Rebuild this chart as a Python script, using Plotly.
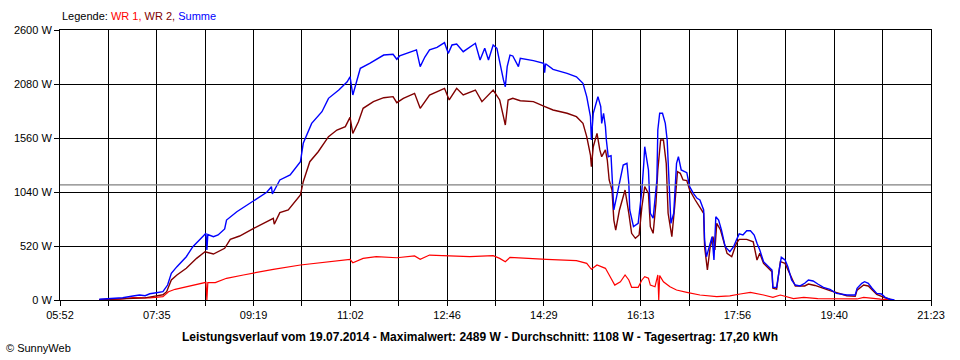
import plotly.graph_objects as go

# ---------------- data ----------------
tick_labels = ["05:52", "", "07:35", "", "09:19", "", "11:02", "", "12:46", "",
               "14:29", "", "16:13", "", "17:56", "", "19:40", "", "21:23"]
y_ticks = [0, 520, 1040, 1560, 2080, 2600]
average_w = 1108

times_wr1 = ["06:34", "06:56", "07:10", "07:28", "07:42", "07:48", "07:55", "08:07", "08:27", "08:28",
             "08:29", "08:30", "08:38", "08:50", "09:08", "09:36", "09:40", "10:09", "11:02", "11:05",
             "11:16", "11:30", "11:52", "12:11", "12:17", "12:27", "12:45", "13:10", "13:35", "13:42",
             "13:48", "13:53", "14:32", "15:04", "15:15", "15:20", "15:26", "15:35", "15:38", "15:42",
             "15:45", "15:51", "15:56", "16:00", "16:03", "16:10", "16:14", "16:17", "16:21", "16:23",
             "16:28", "16:31", "16:32", "16:33", "16:37", "16:44", "16:51", "17:02", "17:16", "17:34",
             "17:48", "17:59", "18:10", "18:24", "18:34", "18:42", "18:49", "18:56", "19:07", "19:22",
             "20:04", "20:11", "20:29", "20:42"]
wr1 = [4, 8, 22, 20, 32, 80, 103, 128, 170, 170,
       0, 168, 167, 209, 241, 289, 295, 337, 392, 359,
       401, 417, 407, 424, 392, 433, 427, 417, 427, 401,
       369, 411, 392, 379, 353, 296, 337, 305, 257, 193,
       144, 176, 241, 193, 122, 122, 193, 225, 209, 144,
       128, 241, 0, 235, 176, 128, 96, 74, 48, 32,
       40, 58, 74, 48, 26, 48, 32, 13, 26, 13,
       10, 26, 8, 0]

times_wr2 = ["06:34", "06:59", "07:10", "07:23", "07:35", "07:42", "07:46", "07:51", "07:57", "08:07",
             "08:18", "08:27", "08:36", "08:41", "08:48", "08:54", "09:04", "09:19", "09:33", "09:36",
             "09:40", "09:41", "09:47", "09:56", "10:09", "10:12", "10:19", "10:28", "10:39", "10:48",
             "10:57", "11:02", "11:05", "11:11", "11:16", "11:27", "11:38", "11:48", "11:52", "11:59",
             "12:11", "12:17", "12:22", "12:27", "12:43", "12:48", "12:56", "13:03", "13:16", "13:23",
             "13:35", "13:42", "13:46", "13:48", "13:51", "13:56", "14:04", "14:18", "14:29", "14:39",
             "14:54", "15:04", "15:11", "15:15", "15:19", "15:20", "15:22", "15:26", "15:29", "15:31",
             "15:35", "15:37", "15:39", "15:42", "15:44", "15:46", "15:50", "15:53", "15:56", "16:00",
             "16:03", "16:07", "16:11", "16:14", "16:17", "16:21", "16:23", "16:26", "16:29", "16:31",
             "16:34", "16:37", "16:40", "16:42", "16:46", "16:49", "16:52", "16:55", "16:58", "17:02",
             "17:05", "17:11", "17:16", "17:20", "17:21", "17:24", "17:27", "17:30", "17:32", "17:34",
             "17:38", "17:41", "17:45", "17:50", "17:55", "17:58", "18:06", "18:13", "18:17", "18:20",
             "18:24", "18:33", "18:34", "18:38", "18:42", "18:47", "18:52", "18:58", "19:08", "19:12",
             "19:19", "19:28", "19:35", "19:53", "20:02", "20:04", "20:11", "20:16", "20:20", "20:25",
             "20:34", "20:42"]
wr2 = [3, 10, 15, 20, 40, 50, 80, 193, 241, 305,
       401, 465, 443, 465, 498, 584, 616, 690, 750, 770,
       787, 730, 841, 867, 1011, 1139, 1332, 1428, 1573, 1637,
       1669, 1759, 1605, 1717, 1846, 1910, 1948, 1958, 1900, 1942,
       1990, 1846, 1910, 1974, 2038, 1926, 2038, 1974, 2022, 1910,
       2022, 1926, 1765, 1685, 1926, 1942, 1919, 1910, 1868, 1830,
       1798, 1765, 1701, 1573, 1396, 1284, 1476, 1605, 1445, 1380,
       1445, 1348, 1156, 1059, 770, 674, 867, 963, 1059, 835,
       642, 594, 626, 898, 1091, 1027, 706, 642, 931, 1252,
       1541, 1541, 1316, 835, 610, 898, 1236, 1220, 1156, 1150,
       1059, 963, 898, 835, 513, 289, 513, 610, 481, 738,
       674, 578, 449, 417, 546, 584, 584, 561, 385, 450,
       353, 273, 113, 105, 369, 353, 250, 135, 135, 154,
       140, 110, 90, 41, 35, 95, 144, 135, 95, 55,
       20, 0]

times_sum = ["06:34", "06:45", "06:59", "07:10", "07:17", "07:23", "07:28", "07:35", "07:42", "07:47",
             "07:51", "07:57", "08:07", "08:14", "08:22", "08:28", "08:29", "08:30", "08:36", "08:41",
             "08:48", "08:50", "09:01", "09:12", "09:22", "09:33", "09:38", "09:39", "09:47", "09:58",
             "10:09", "10:12", "10:21", "10:32", "10:39", "10:50", "10:59", "11:02", "11:05", "11:08",
             "11:13", "11:23", "11:30", "11:38", "11:48", "11:52", "11:55", "12:10", "12:13", "12:17",
             "12:22", "12:27", "12:35", "12:43", "12:47", "12:51", "12:56", "13:03", "13:16", "13:21",
             "13:26", "13:30", "13:35", "13:39", "13:42", "13:46", "13:48", "13:50", "13:53", "13:56",
             "14:02", "14:04", "14:18", "14:29", "14:30", "14:31", "14:39", "14:54", "15:04", "15:11",
             "15:15", "15:19", "15:20", "15:22", "15:26", "15:27", "15:30", "15:31", "15:33", "15:35",
             "15:36", "15:38", "15:41", "15:43", "15:44", "15:47", "15:51", "15:54", "15:58", "16:00",
             "16:01", "16:05", "16:10", "16:14", "16:16", "16:17", "16:21", "16:23", "16:26", "16:30",
             "16:31", "16:33", "16:36", "16:39", "16:41", "16:43", "16:45", "16:48", "16:51", "16:53",
             "16:56", "17:02", "17:05", "17:09", "17:13", "17:16", "17:20", "17:21", "17:23", "17:29",
             "17:31", "17:33", "17:36", "17:39", "17:43", "17:48", "17:52", "17:55", "17:58", "18:02",
             "18:06", "18:10", "18:14", "18:17", "18:20", "18:24", "18:29", "18:33", "18:34", "18:38",
             "18:41", "18:43", "18:47", "18:50", "18:54", "18:58", "19:03", "19:08", "19:12", "19:17",
             "19:22", "19:28", "19:35", "19:42", "19:53", "20:02", "20:04", "20:09", "20:12", "20:16",
             "20:20", "20:25", "20:30", "20:34", "20:39", "20:44"]
summe = [7, 15, 22, 38, 48, 41, 60, 70, 80, 144,
         257, 321, 417, 513, 584, 642, 481, 630, 610, 626,
         684, 770, 850, 915, 979, 1037, 1091, 1021, 1156, 1204,
         1332, 1509, 1701, 1813, 1942, 2022, 2102, 2150, 1974, 2070,
         2231, 2279, 2318, 2359, 2366, 2318, 2350, 2401, 2408, 2247,
         2340, 2408, 2433, 2478, 2375, 2456, 2465, 2391, 2472, 2311,
         2424, 2311, 2456, 2424, 2279, 2119, 2054, 2247, 2359, 2350,
         2247, 2327, 2305, 2279, 2190, 2275, 2221, 2183, 2150, 2087,
         1958, 1765, 1541, 1798, 1926, 1958, 1862, 1701, 1798, 1669,
         1541, 1380, 1390, 1059, 867, 995, 1156, 1300, 1316, 1124,
         867, 706, 738, 1059, 1316, 1476, 1252, 835, 787, 1156,
         1637, 1798, 1798, 1701, 1541, 1156, 738, 835, 1316, 1380,
         1252, 1226, 1091, 1027, 979, 963, 867, 578, 417, 610,
         385, 802, 770, 674, 513, 465, 513, 578, 636, 626,
         667, 667, 626, 546, 481, 369, 321, 289, 122, 122,
         305, 411, 385, 321, 193, 144, 135, 161, 193, 183,
         154, 122, 103, 64, 48, 48, 113, 161, 176, 161,
         113, 64, 58, 26, 7, 0]

# ---------------- helpers ----------------
def to_min(s):
    h, m = s.split(":")
    return int(h) * 60 + int(m)

x_start = to_min(tick_labels[0])
x_end = to_min(tick_labels[-1])
n_int = len(tick_labels) - 1
tickvals = [x_start + k * (x_end - x_start) / n_int for k in range(n_int + 1)]

FONT = "Liberation Sans, Arial, sans-serif"

fig = go.Figure()
for name, tt, vv, col, w in [("WR 1", times_wr1, wr1, "#FF0000", 1.2),
                             ("WR 2", times_wr2, wr2, "#800000", 1.4),
                             ("Summe", times_sum, summe, "#0000FF", 1.4)]:
    fig.add_trace(go.Scatter(x=[to_min(t) for t in tt], y=vv, mode="lines", name=name,
                             line=dict(color=col, width=w), showlegend=False))

fig.add_shape(type="line", xref="paper", x0=0, x1=1, yref="y", y0=average_w, y1=average_w,
              line=dict(color="#808080", width=1.2), layer="above")

fig.update_layout(
    width=960, height=360,
    margin=dict(l=60, r=29, t=30, b=60),
    paper_bgcolor="white", plot_bgcolor="white",
    font=dict(family=FONT, size=11, color="black"),
    xaxis=dict(range=[x_start, x_end], tickmode="array", tickvals=tickvals, ticktext=tick_labels,
               showgrid=True, gridcolor="black", gridwidth=1, zeroline=False,
               showline=True, linecolor="black", linewidth=1, mirror=True,
               ticks="outside", ticklen=5, tickcolor="black", tickfont=dict(size=11)),
    yaxis=dict(range=[0, 2600], tickmode="array", tickvals=y_ticks,
               ticktext=[f"{v} W" for v in y_ticks],
               showgrid=True, gridcolor="black", gridwidth=1, zeroline=False,
               showline=True, linecolor="black", linewidth=1, mirror=True,
               ticks="outside", ticklen=5, tickcolor="black", tickfont=dict(size=11)),
)

fig.add_annotation(xref="paper", yref="paper", x=0, y=(300 - 16.5) / 270, xanchor="left", yanchor="middle",
                   showarrow=False, font=dict(size=11, family=FONT),
                   text="Legende: <span style='color:#FF0000'>WR 1,</span> "
                        "<span style='color:#800000'>WR 2,</span> "
                        "<span style='color:#0000FF'>Summe</span>")
fig.add_annotation(xref="paper", yref="paper", x=(480 - 60) / 871, y=(300 - 336.5) / 270,
                   xanchor="center", yanchor="middle", showarrow=False,
                   font=dict(size=12, family=FONT),
                   text="<b>Leistungsverlauf vom 19.07.2014 - Maximalwert: 2489 W - "
                        "Durchschnitt: 1108 W - Tagesertrag: 17,20 kWh</b>")
fig.add_annotation(xref="paper", yref="paper", x=(4 - 60) / 871, y=(300 - 348) / 270,
                   xanchor="left", yanchor="middle", showarrow=False,
                   font=dict(size=11, family=FONT), text="© SunnyWeb")

fig.write_html("out.html",
               config={"displayModeBar": False},
               post_script="document.body.style.margin='0';document.body.style.overflow='hidden';")
